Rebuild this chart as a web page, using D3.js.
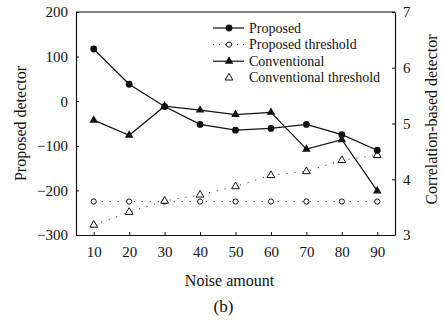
<!DOCTYPE html>
<html>
<head>
<meta charset="utf-8">
<script src="https://cdn.jsdelivr.net/npm/d3@7"></script>
<style>
  html, body { margin: 0; padding: 0; background: #fff; }
  svg { display: block; }
</style>
</head>
<body>
<svg id="chart" width="444" height="329"></svg>
<script>
// Noise amounts on the x axis
const noiseAmount = [10, 20, 30, 40, 50, 60, 70, 80, 90];

// Proposed detector output and its threshold (left axis)
const proposed = [117, 38, -12, -52, -65, -61, -52, -75, -110];
const proposedThreshold = [-225, -225, -225, -225, -225, -225, -225, -225, -225];

// Correlation-based (conventional) detector output and its threshold (right axis)
const conventional = [5.06, 4.79, 5.31, 5.24, 5.16, 5.20, 4.54, 4.71, 3.79];
const conventionalThreshold = [3.18, 3.41, 3.61, 3.72, 3.87, 4.07, 4.14, 4.34, 4.43];

// Tick labels
const xTicks = [10, 20, 30, 40, 50, 60, 70, 80, 90];
const leftTicks = [200, 100, 0, -100, -200, -300];
const rightTicks = [3, 4, 5, 6, 7];

const legendItems = ["Proposed", "Proposed threshold", "Conventional", "Conventional threshold"];

const FONT = "Liberation Serif, DejaVu Serif, serif";
const svg = d3.select("#chart").attr("font-family", FONT);
const m = { left: 76, right: 395, top: 12, bottom: 235 };
const ink = "#111";

const x = d3.scaleLinear().domain([5, 95]).range([m.left, m.right]);
const yL = d3.scaleLinear().domain([-300, 200]).range([m.bottom, m.top]);
const yR = d3.scaleLinear().domain([3, 7]).range([m.bottom, m.top]);

// Frame top edge
svg.append("line")
  .attr("x1", m.left).attr("x2", m.right)
  .attr("y1", m.top).attr("y2", m.top)
  .attr("stroke", ink).attr("stroke-width", 1.2);

function styleAxis(g) {
  g.attr("font-family", FONT).attr("font-size", 15);
  g.select(".domain").attr("stroke", ink).attr("stroke-width", 1.2);
  g.selectAll(".tick line").attr("stroke", ink);
  g.selectAll(".tick text").attr("fill", ink);
}

svg.append("g")
  .attr("transform", `translate(0,${m.bottom})`)
  .call(d3.axisBottom(x).tickValues(xTicks).tickFormat(d3.format("d"))
    .tickSize(-3).tickSizeOuter(0).tickPadding(11))
  .call(styleAxis);

svg.append("g")
  .attr("transform", `translate(${m.left},0)`)
  .call(d3.axisLeft(yL).tickValues(leftTicks).tickFormat(d3.format("d"))
    .tickSize(-3).tickSizeOuter(0).tickPadding(8))
  .call(styleAxis);

svg.append("g")
  .attr("transform", `translate(${m.right},0)`)
  .call(d3.axisRight(yR).tickValues(rightTicks).tickFormat(d3.format("d"))
    .tickSize(-3).tickSizeOuter(0).tickPadding(8))
  .call(styleAxis);

// Axis titles
function title(sel, size) {
  return sel.attr("font-family", FONT).attr("font-size", size).attr("fill", ink)
    .attr("text-anchor", "middle");
}

title(svg.append("text"), 16)
  .attr("x", (m.left + m.right) / 2 - 6).attr("y", 286)
  .text("Noise amount");

title(svg.append("text"), 17)
  .attr("x", (m.left + m.right) / 2 - 12).attr("y", 312)
  .text("(b)");

title(svg.append("text"), 16)
  .attr("transform", `translate(26,${(m.top + m.bottom) / 2}) rotate(-90)`)
  .text("Proposed detector");

title(svg.append("text"), 16)
  .attr("transform", `translate(437,${(m.top + m.bottom) / 2 - 4}) rotate(-90)`)
  .text("Correlation-based detector");

// Marker helpers
const triangle = d3.symbol().type(d3.symbolTriangle).size(32);
const openTriangle = d3.symbol().type(d3.symbolTriangle).size(26);

function drawMarker(g, cx, cy, type) {
  if (type === "dot") {
    g.append("circle").attr("cx", cx).attr("cy", cy).attr("r", 3.4).attr("fill", ink);
  } else if (type === "ring") {
    g.append("circle").attr("cx", cx).attr("cy", cy).attr("r", 2.6)
      .attr("fill", "#fff").attr("stroke", ink).attr("stroke-width", 1);
  } else if (type === "tri") {
    g.append("path").attr("d", triangle).attr("transform", `translate(${cx},${cy})`).attr("fill", ink);
  } else if (type === "opentri") {
    g.append("path").attr("d", openTriangle).attr("transform", `translate(${cx},${cy})`)
      .attr("fill", "#fff").attr("stroke", ink).attr("stroke-width", 1);
  }
}

function drawSeries(values, yScale, opts) {
  const pts = values.map((v, i) => [x(noiseAmount[i]), yScale(v)]);
  svg.append("path")
    .attr("d", d3.line()(pts))
    .attr("fill", "none")
    .attr("stroke", ink)
    .attr("stroke-width", opts.dotted ? 1 : 1.2)
    .attr("stroke-dasharray", opts.dotted ? "1,7" : null);
  const g = svg.append("g");
  pts.forEach(p => drawMarker(g, p[0], p[1], opts.marker));
}

drawSeries(proposedThreshold, yL, { dotted: true, marker: "ring" });
drawSeries(conventionalThreshold, yR, { dotted: true, marker: "opentri" });
drawSeries(conventional, yR, { dotted: false, marker: "tri" });
drawSeries(proposed, yL, { dotted: false, marker: "dot" });

// Legend
const legendStyles = [
  { dotted: false, marker: "dot", line: true },
  { dotted: true, marker: "ring", line: true },
  { dotted: false, marker: "tri", line: true },
  { dotted: true, marker: "opentri", line: false }
];
const lg = svg.append("g");
legendItems.forEach((label, i) => {
  const yy = 28 + i * 16.6;
  const st = legendStyles[i];
  if (st.line) {
    lg.append("line")
      .attr("x1", 213).attr("x2", 244).attr("y1", yy).attr("y2", yy)
      .attr("stroke", ink).attr("stroke-width", st.dotted ? 1 : 1.2)
      .attr("stroke-dasharray", st.dotted ? "1,5" : null);
  }
  drawMarker(lg, 229, yy, st.marker);
  lg.append("text")
    .attr("x", 249).attr("y", yy + 4.5)
    .attr("font-family", FONT).attr("font-size", 14).attr("fill", ink)
    .text(label);
});
</script>
</body>
</html>
